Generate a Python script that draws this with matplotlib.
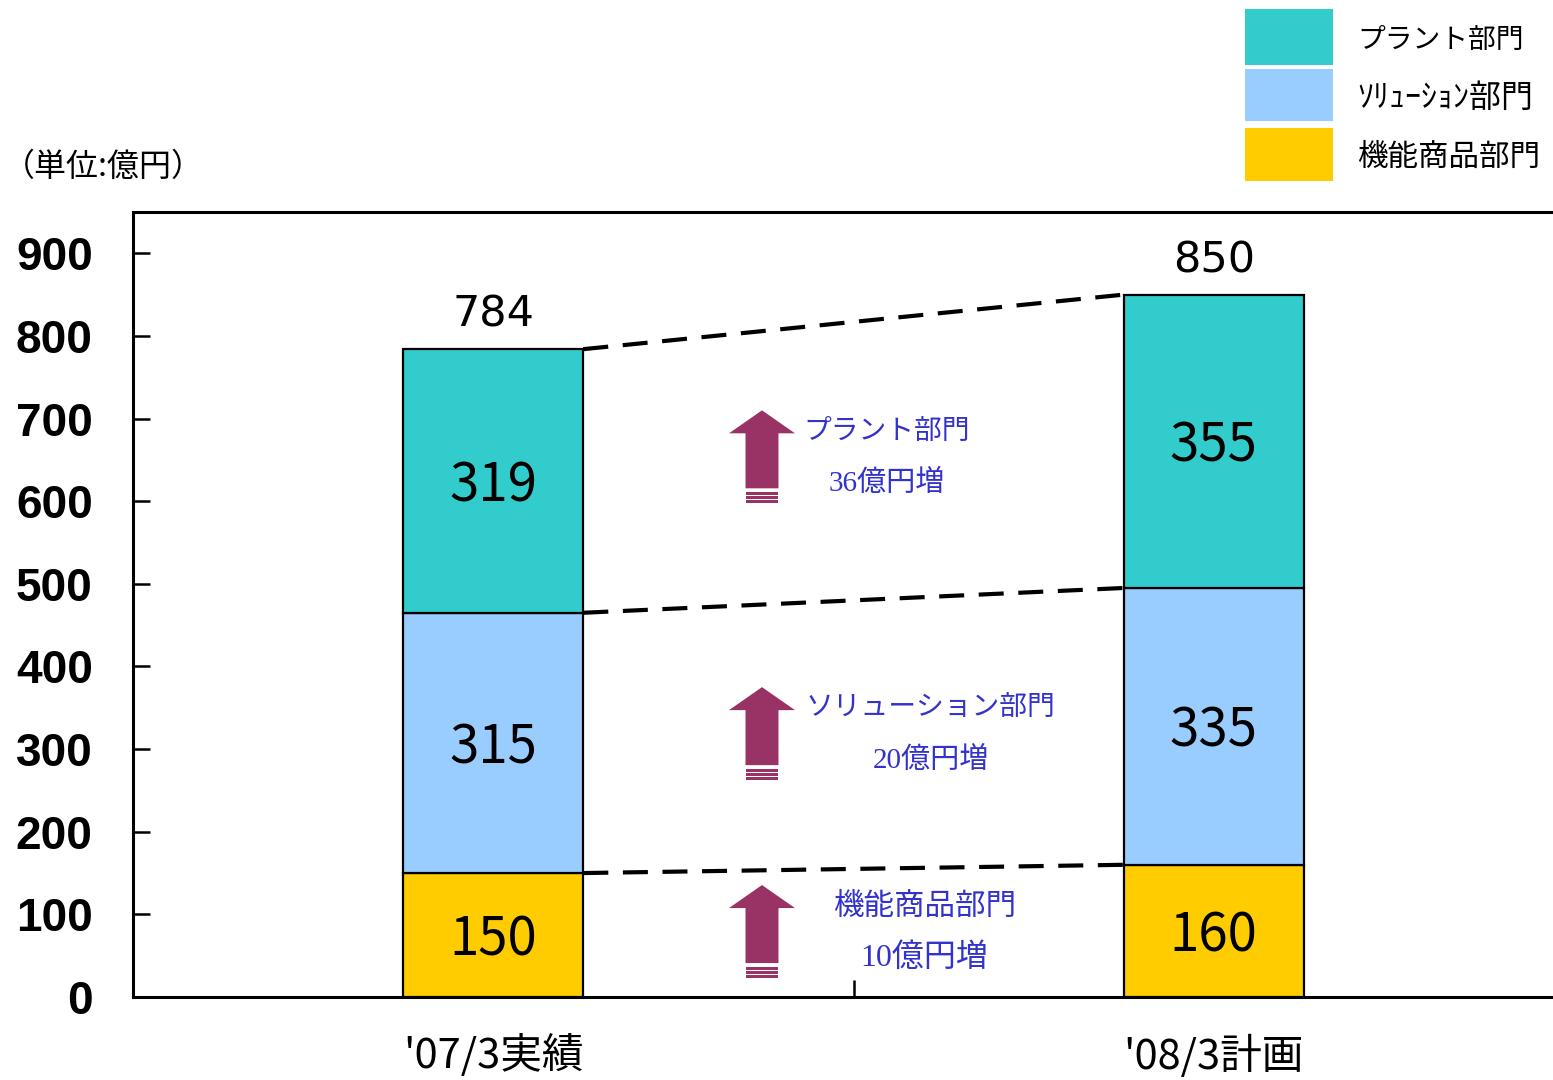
import matplotlib
matplotlib.use('Agg')
import matplotlib.pyplot as plt
from matplotlib.patches import Polygon, Rectangle

plt.rcParams['font.family'] = ['Noto Sans CJK JP', 'DejaVu Sans']

# data
categories = ["'07/3実績", "'08/3計画"]
segments = ['機能商品部門', 'ソリューション部門', 'プラント部門']
legend_names = ['機能商品部門', 'ｿﾘｭｰｼｮﾝ部門', 'プラント部門']
func_vals = [150, 160]
sol_vals = [315, 335]
plant_vals = [319, 355]
totals = [784, 850]
increases = [10, 20, 36]
colors = ['#FFCC00', '#99CCFF', '#33CCCC']

fig = plt.figure(figsize=(15.53, 10.8), dpi=100)
# axes extends past the right edge like the original slide
ax = fig.add_axes([133 / 1553, 83 / 1080, 1441 / 1553, 785 / 1080])

x = [0, 1]
bottom = [0, 0]
tops = []
for vals, c in zip([func_vals, sol_vals, plant_vals], colors):
    ax.bar(x, vals, width=0.25, bottom=bottom, color=c, edgecolor='black', linewidth=1.6, zorder=3)
    for xi, v, b in zip(x, vals, bottom):
        ax.text(xi, b + v / 2 - 6, str(v), ha='center', va='center', fontsize=38, color='black', zorder=4)
    bottom = [b + v for b, v in zip(bottom, vals)]
    tops.append(list(bottom))

# dashed connectors between bar tops
for t in tops:
    ax.plot([0.125, 0.875], t, color='black', lw=3, ls=(0, (6, 3.5)), zorder=2)

for xi, t in zip(x, totals):
    ax.text(xi, t + 16, str(t), ha='center', va='bottom', fontsize=31, family='DejaVu Sans')

ax.set_xlim(-0.5, 1.5)
ax.set_ylim(0, 950)
ax.set_yticks(range(0, 1000, 100))
ax.set_xticks(x)
ax.set_xticklabels(categories, fontsize=30)
ax.set_xticks([0.5], minor=True)
ax.tick_params(axis='x', which='major', length=0, pad=27)
ax.tick_params(axis='x', which='minor', direction='in', length=12, width=1.8)
ax.tick_params(axis='y', direction='in', length=12, width=1.8, pad=29)
for lab in ax.get_yticklabels():
    lab.set_fontfamily('Liberation Sans')
    lab.set_fontweight('bold')
    lab.set_fontsize(33)
for s in ['left', 'bottom', 'top', 'right']:
    ax.spines[s].set_linewidth(2.2)

# up arrows with increase notes
px = 950 / 785.0
xw = 2 / 1442.0
arrow_x = 0.373
arrow_tips = [135.5, 375.0, 710.0]
text_x = [0.598, 0.607, 0.546]
text_sizes = [22, 20, 20]
for tip, inc, seg, tx, fs in zip(arrow_tips, increases, segments, text_x, text_sizes):
    hw = 33 * xw
    sw = 16.5 * xw
    base = tip - 23 * px
    sb = tip - 78 * px
    pts = [(arrow_x, tip), (arrow_x + hw, base), (arrow_x + sw, base), (arrow_x + sw, sb),
           (arrow_x - sw, sb), (arrow_x - sw, base), (arrow_x - hw, base)]
    ax.add_patch(Polygon(pts, closed=True, color='#993366', lw=0, zorder=3))
    for k in range(3):
        y0 = tip - (82 + 4 * k) * px
        ax.add_patch(Rectangle((arrow_x - sw, y0 - 2.5 * px), 2 * sw, 2.5 * px,
                               color='#993366', lw=0, zorder=3))
    ty = tip - 21 * px
    ax.text(tx, ty, seg, ha='center', va='center', fontsize=fs, color='#3333CC')
    ax.text(tx, ty - 52 * px, f'{inc}億円増', ha='center', va='center', fontsize=fs + 1,
            color='#3333CC', family=['Liberation Serif', 'Noto Sans CJK JP'])

# legend drawn by hand at the top right
leg_rows = [(9, 65, 2, 20), (69, 121, 1, 23), (128, 181, 0, 22)]
for y0, y1, i, fs in leg_rows:
    fig.patches.append(Rectangle((1245 / 1553, 1 - y1 / 1080), 88 / 1553, (y1 - y0) / 1080,
                                 transform=fig.transFigure, color=colors[i], lw=0))
    fig.text(1357 / 1553, 1 - ((y0 + y1) / 2 + 3) / 1080, legend_names[i], ha='left', va='center', fontsize=fs)

fig.text(3 / 1553, 1 - 167 / 1080, '（単位:億円）', ha='left', va='center', fontsize=23)

fig.savefig('out.png', dpi=100)
